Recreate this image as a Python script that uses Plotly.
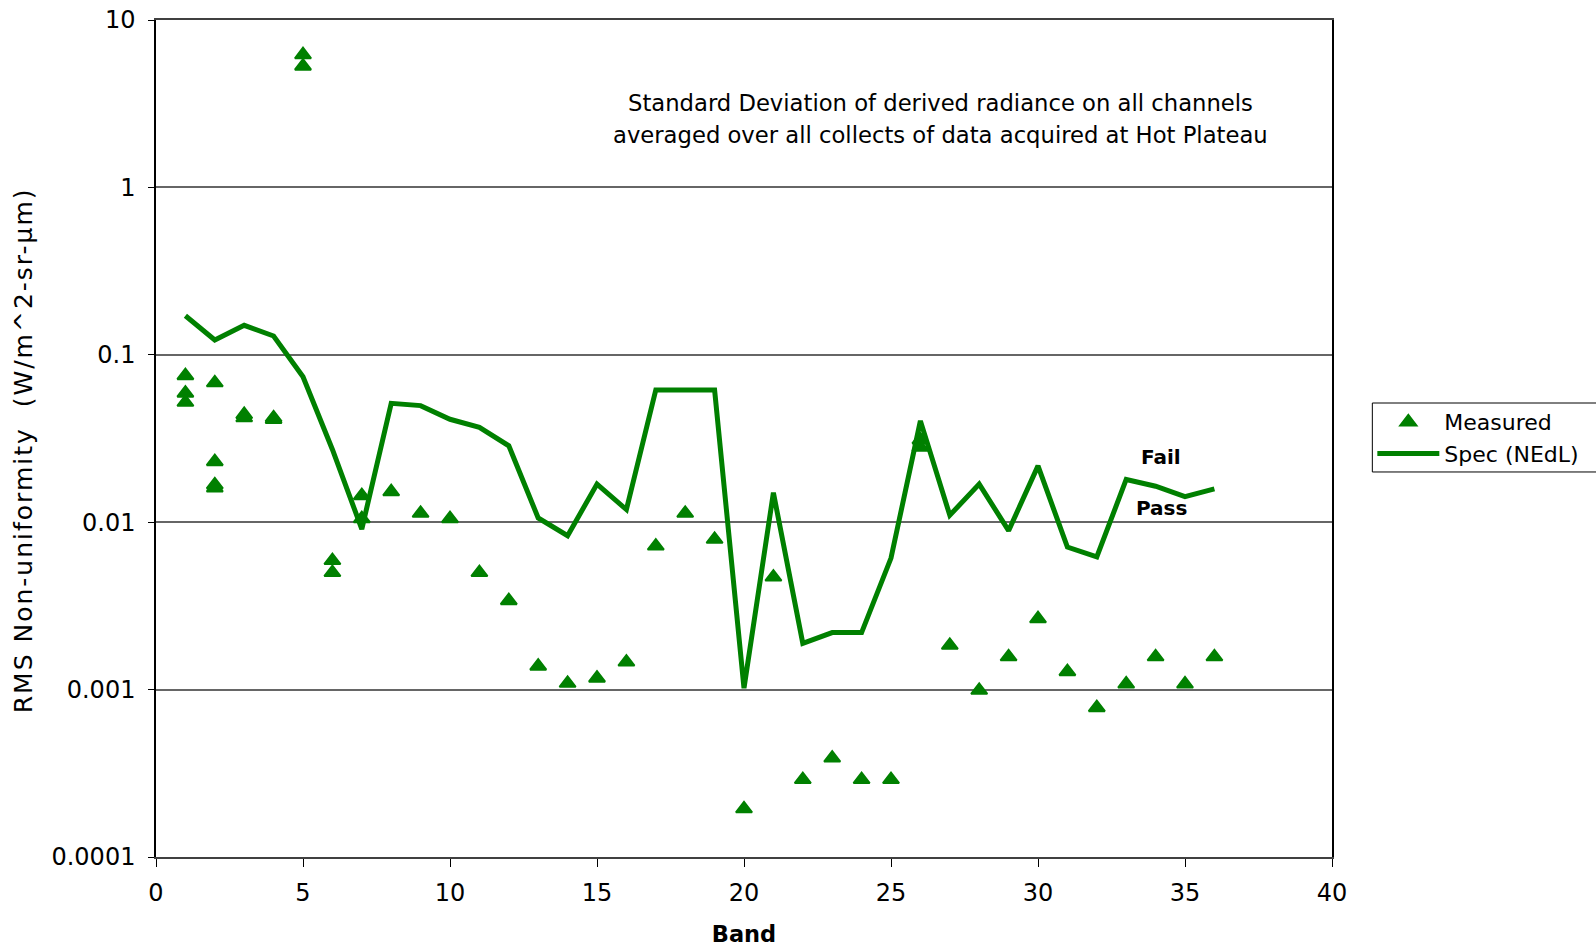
import plotly.graph_objects as go

# Band numbers for the spec curve
spec_bands = list(range(1, 37))
# Spec (NEdL) per band
spec_values = [0.171, 0.1226, 0.150, 0.1295, 0.074, 0.0272, 0.0091, 0.0513, 0.0497,
               0.0412, 0.0369, 0.0286, 0.0106, 0.0083, 0.0169, 0.0119, 0.0617, 0.0617,
               0.0617, 0.00102, 0.0150, 0.00189, 0.00219, 0.00219, 0.0061, 0.0403,
               0.0110, 0.0169, 0.0089, 0.0217, 0.0071, 0.0062, 0.0180, 0.0164, 0.0142,
               0.0158]

# Measured RMS non-uniformity (several collects on some bands)
measured_bands = [1, 1, 1, 2, 2, 2, 2, 3, 3, 4, 4, 5, 5, 6, 6, 7, 7, 8, 9, 10, 11, 12,
                  13, 14, 15, 16, 17, 18, 19, 20, 21, 22, 23, 24, 25, 26, 26, 27, 28,
                  29, 30, 31, 32, 33, 34, 35, 36]
measured_values = [0.075, 0.059, 0.052, 0.068, 0.023, 0.0167, 0.016, 0.044, 0.042,
                   0.042, 0.041, 6.2, 5.3, 0.0059, 0.0050, 0.0144, 0.0105, 0.0152,
                   0.0113, 0.0105, 0.0050, 0.0034, 0.00138, 0.00109, 0.00117, 0.00146,
                   0.0072, 0.0113, 0.0079, 0.000194, 0.0047, 0.00029, 0.00039, 0.00029,
                   0.00029, 0.031, 0.028, 0.00184, 0.00099, 0.00157, 0.00265, 0.00128,
                   0.00078, 0.00108, 0.00157, 0.00108, 0.00157]

y_tickvals = [0.0001, 0.001, 0.01, 0.1, 1, 10]
y_ticktext = ["0.0001", "0.001", "0.01", "0.1", "1", "10"]
x_tickvals = [0, 5, 10, 15, 20, 25, 30, 35, 40]

GREEN = "#008000"
FONT = "DejaVu Sans"

fig = go.Figure()
fig.add_trace(go.Scatter(
    x=measured_bands, y=measured_values, mode="markers", name="Measured",
    marker=dict(symbol="triangle-up", size=14, color=GREEN,
                line=dict(color=GREEN, width=2)),
))
fig.add_trace(go.Scatter(
    x=spec_bands, y=spec_values, mode="lines", name="Spec (NEdL)",
    line=dict(color=GREEN, width=5),
))

fig.update_layout(
    width=1596, height=947,
    margin=dict(l=156, r=264, t=20, b=90, autoexpand=False),
    paper_bgcolor="white", plot_bgcolor="white",
    font=dict(family=FONT, size=22, color="black"),
    showlegend=True,
    legend=dict(x=1.0343, y=0.5447, xanchor="left", yanchor="top",
                bgcolor="rgba(0,0,0,0)", borderwidth=0,
                font=dict(family=FONT, size=22, color="black"),
                itemwidth=62),
    shapes=[dict(type="rect", xref="paper", yref="paper",
                 x0=1.0343, x1=1.25, y0=0.4600, y1=0.5424,
                 line=dict(color="black", width=1), fillcolor="rgba(0,0,0,0)")],
)

fig.update_xaxes(
    range=[0, 40], tickvals=x_tickvals, showgrid=False, automargin=False,
    showline=True, linecolor="#404040", linewidth=2, mirror=True,
    ticks="outside", ticklen=8, tickcolor="black", tickwidth=1,
    ticklabelstandoff=5,
    tickfont=dict(family=FONT, size=24),
    title=dict(text="<b>Band</b>", font=dict(family=FONT, size=22.5), standoff=22),
)
fig.update_yaxes(
    type="log", range=[-4, 1], tickvals=y_tickvals, ticktext=y_ticktext,
    automargin=False,
    showgrid=True, gridcolor="#666666", gridwidth=1.5,
    showline=True, linecolor="black", linewidth=1.5, mirror=True,
    ticks="outside", ticklen=6, tickcolor="black", tickwidth=1,
    ticklabelstandoff=8,
    tickfont=dict(family=FONT, size=24),
)

# Y-axis title
fig.add_annotation(xref="paper", yref="paper", x=-0.112, y=0.4863,
                   xanchor="center", yanchor="middle", textangle=-90,
                   text='<span style="letter-spacing:2px">RMS Non-uniformity  (W/m^2-sr-µm)</span>',
                   showarrow=False, font=dict(family=FONT, size=25))

# Description text and pass/fail labels
fig.add_annotation(xref="paper", yref="paper", x=0.667, y=0.9008,
                   xanchor="center", yanchor="middle",
                   text="Standard Deviation of derived radiance on all channels",
                   showarrow=False, font=dict(family=FONT, size=22.7))
fig.add_annotation(xref="paper", yref="paper", x=0.667, y=0.8626,
                   xanchor="center", yanchor="middle",
                   text="averaged over all collects of data acquired at Hot Plateau",
                   showarrow=False, font=dict(family=FONT, size=22.7))
fig.add_annotation(xref="paper", yref="paper", x=0.855, y=0.4773,
                   xanchor="center", yanchor="middle",
                   text="<b>Fail</b>", showarrow=False,
                   font=dict(family=FONT, size=20))
fig.add_annotation(xref="paper", yref="paper", x=0.855, y=0.4164,
                   xanchor="center", yanchor="middle",
                   text="<b>Pass</b>", showarrow=False,
                   font=dict(family=FONT, size=20))

fig.write_html("out.html")
